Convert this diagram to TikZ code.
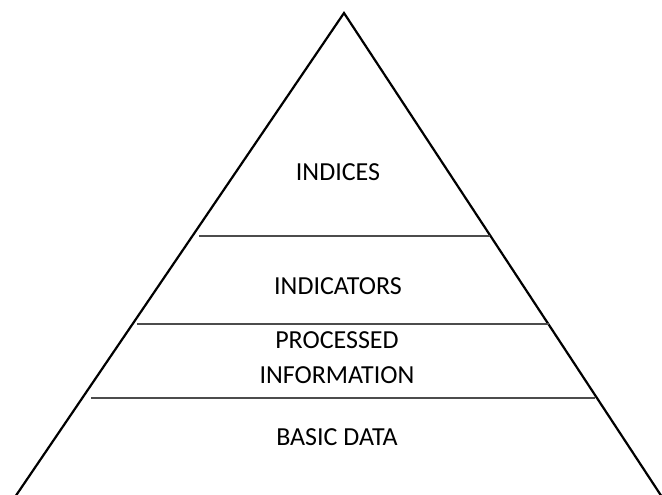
\documentclass[tikz,border=0pt]{standalone}
\usepackage{fontspec}
\setmainfont{Carlito}
\begin{document}
\begin{tikzpicture}[x=1pt,y=-1pt,line join=miter,
   layer/.style={font=\fontsize{26}{35}\selectfont,align=center,inner sep=0pt},
   sep/.style={line width=1.6pt,black!70}]
            \useasboundingbox (0,0) rectangle (662,495);
            \coordinate (top) at (344,13);
            \coordinate (lb) at (15,497);
            \coordinate (rb) at (662,497);
            \draw[line width=2.2pt] (lb) -- (top) -- (rb);
            \draw[sep] (199,236) -- (490,236);
            \draw[sep] (137,324) -- (549,324);
            \draw[sep] (91,398) -- (595,398);
            \node[layer] (indices) at (338,172) {INDICES};
            \node[layer] (indicators) at (338,286) {INDICATORS};
            \node[layer] (processed) at (337,358) {PROCESSED\\INFORMATION};
            \node[layer] (basic) at (337,437) {BASIC DATA};
         \end{tikzpicture}
\end{document}
